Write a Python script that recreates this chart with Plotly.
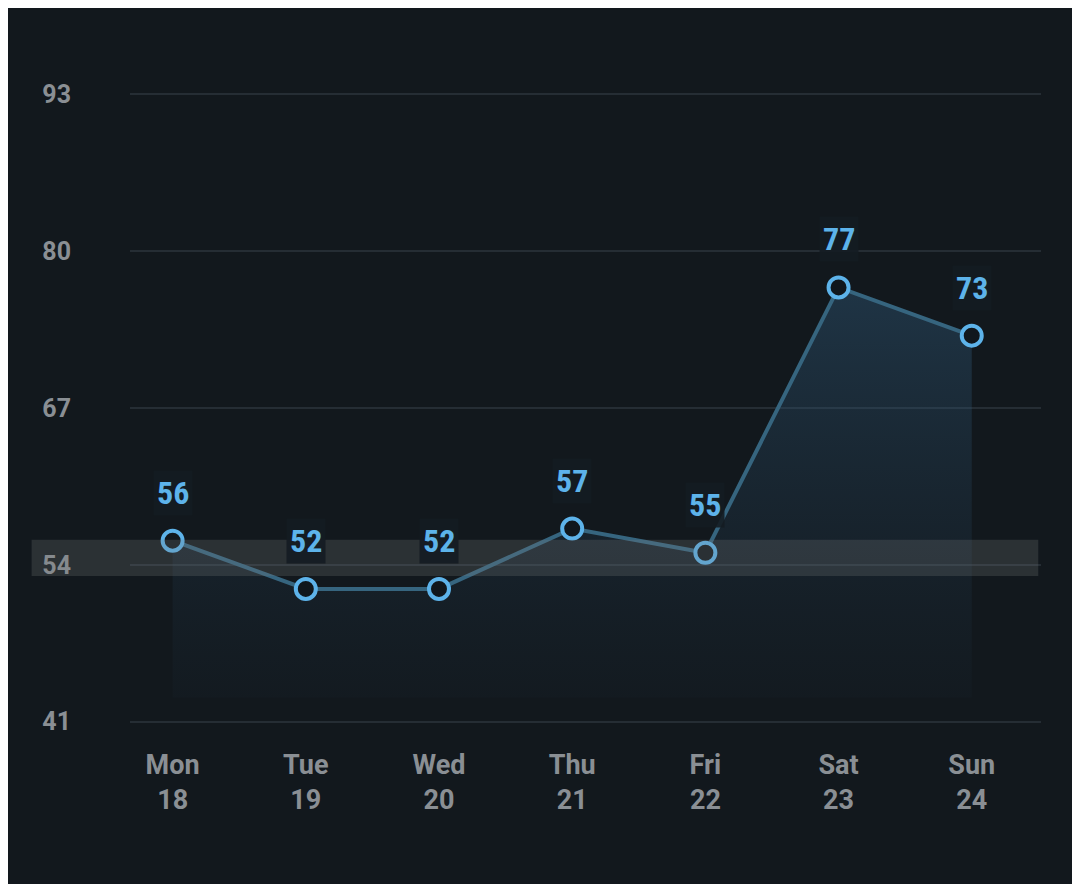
import plotly.graph_objects as go

days = ["Mon", "Tue", "Wed", "Thu", "Fri", "Sat", "Sun"]
dates = ["18", "19", "20", "21", "22", "23", "24"]
values = [56, 52, 52, 57, 55, 77, 73]
y_ticks = [41, 54, 67, 80, 93]
highlight = 54

xs = list(range(len(days)))
ticktext = [f"<b>{d}<br>{n}</b>" for d, n in zip(days, dates)]

fig = go.Figure()

# baseline for the shaded area
fig.add_trace(go.Scatter(x=xs, y=[43] * len(xs), mode="lines",
                         line=dict(width=0), hoverinfo="skip", showlegend=False))
fig.add_trace(go.Scatter(
    x=xs, y=values, mode="lines+markers", fill="tonexty",
    fillgradient=dict(type="vertical",
                      colorscale=[[0, "rgba(40,70,95,0.05)"], [1, "rgba(50,95,130,0.4)"]]),
    line=dict(color="#36657f", width=4),
    marker=dict(symbol="circle", size=20, color="#10171d",
                line=dict(color="#5db3ea", width=4)),
    showlegend=False,
))

annotations = []
for x, v in zip(xs, values):
    annotations.append(dict(x=x, y=v, yshift=48, text=f"<b>{v}</b>", showarrow=False,
                            font=dict(size=32, color="#5db3ea", family="Roboto Condensed, Roboto"),
                            bgcolor="rgba(20,28,34,0.9)", borderpad=3))

fig.update_layout(
    width=1080, height=884,
    paper_bgcolor="#12181d", plot_bgcolor="#12181d",
    margin=dict(l=122, r=47, t=84, b=168),
    font=dict(family="Roboto", color="#8a8f94"),
    xaxis=dict(range=[-0.32, 6.52], tickvals=xs, ticktext=ticktext, showgrid=False,
               zeroline=False, tickfont=dict(size=27), ticklabelstandoff=22),
    yaxis=dict(range=[40.8, 93.2], tickvals=y_ticks,
               ticktext=[f"<b>{t}</b>" for t in y_ticks], gridcolor="#252d34", gridwidth=2,
               zeroline=False, tickfont=dict(size=25), ticklabelstandoff=58),
    annotations=annotations,
    shapes=[dict(type="rect", xref="paper", yref="y", x0=-0.108, x1=0.997,
                 y0=highlight - 0.92, y1=highlight + 2.08, layer="above",
                 fillcolor="rgba(120,125,125,0.25)", line=dict(width=0))],
)

fig.write_html("out.html")
